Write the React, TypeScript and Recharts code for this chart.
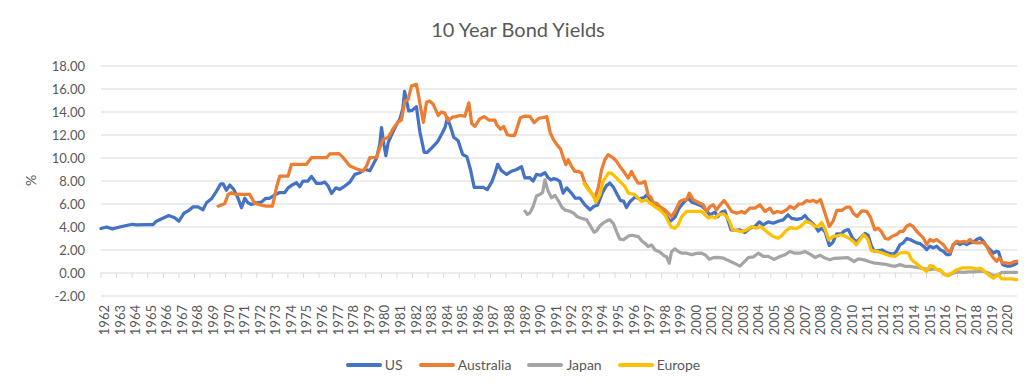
import { LineChart, Line, XAxis, YAxis, CartesianGrid, ReferenceLine } from 'recharts'

// [year fraction, yield %]
const US: [number, number][] = [
  [1962.0, 3.87], [1962.35, 4.0], [1962.73, 3.84], [1963.2, 4.0], [1963.63, 4.13], [1964.0, 4.24],
  [1964.27, 4.19], [1965.0, 4.2], [1965.34, 4.2], [1965.55, 4.5], [1965.87, 4.7], [1966.35, 5.0],
  [1966.73, 4.8], [1967.0, 4.5], [1967.33, 5.2], [1967.59, 5.4], [1967.91, 5.75], [1968.23, 5.75],
  [1968.55, 5.5], [1968.77, 6.1], [1969.09, 6.45], [1969.41, 7.1], [1969.69, 7.76], [1969.84, 7.76],
  [1970.05, 7.2], [1970.27, 7.65], [1970.52, 7.27], [1970.8, 6.5], [1971.02, 5.67], [1971.23, 6.5],
  [1971.44, 6.1], [1971.66, 5.96], [1971.98, 6.1], [1972.3, 6.16], [1972.58, 6.5], [1972.83, 6.5],
  [1973.16, 6.8], [1973.48, 7.0], [1973.8, 7.0], [1974.01, 7.4], [1974.33, 7.7], [1974.55, 7.85],
  [1974.76, 7.5], [1974.97, 8.0], [1975.29, 8.0], [1975.51, 8.4], [1975.83, 7.8], [1976.16, 7.8],
  [1976.37, 7.9], [1976.58, 7.56], [1976.8, 6.92], [1977.08, 7.41], [1977.33, 7.27], [1977.65, 7.56],
  [1977.98, 7.9], [1978.3, 8.58], [1978.62, 8.72], [1978.94, 9.0], [1979.26, 8.9], [1979.48, 9.45],
  [1979.69, 10.0], [1979.9, 11.2], [1980.01, 12.65], [1980.16, 11.2], [1980.29, 10.2], [1980.44, 11.35],
  [1980.65, 12.0], [1980.95, 12.85], [1981.19, 13.4], [1981.38, 14.3], [1981.49, 15.8], [1981.62, 15.0],
  [1981.75, 14.1], [1981.98, 14.15], [1982.25, 14.45], [1982.47, 12.3], [1982.75, 10.5], [1982.95, 10.5],
  [1983.25, 10.9], [1983.6, 11.4], [1983.92, 12.2], [1984.1, 12.7], [1984.24, 13.5], [1984.42, 12.8],
  [1984.65, 11.8], [1984.93, 11.5], [1985.22, 10.3], [1985.49, 10.12], [1985.72, 9.0], [1985.96, 7.45],
  [1986.25, 7.45], [1986.54, 7.45], [1986.8, 7.25], [1987.1, 7.95], [1987.3, 8.7], [1987.47, 9.45],
  [1987.71, 8.9], [1988.04, 8.57], [1988.36, 8.85], [1988.68, 9.0], [1989.0, 9.25], [1989.21, 8.27],
  [1989.51, 8.3], [1989.75, 8.0], [1989.96, 8.57], [1990.22, 8.5], [1990.5, 8.72], [1990.71, 8.28],
  [1990.9, 8.1], [1991.05, 8.2], [1991.25, 8.14], [1991.46, 7.96], [1991.67, 6.95], [1991.9, 7.4],
  [1992.2, 6.95], [1992.45, 6.5], [1992.75, 6.51], [1993.05, 5.95], [1993.4, 5.5], [1993.65, 5.8],
  [1993.88, 5.9], [1994.2, 7.0], [1994.45, 7.6], [1994.67, 7.82], [1994.9, 7.45], [1995.15, 6.8],
  [1995.35, 6.3], [1995.55, 6.25], [1995.74, 5.7], [1995.96, 6.2], [1996.28, 6.6], [1996.55, 6.45],
  [1996.85, 6.55], [1997.05, 6.8], [1997.3, 6.3], [1997.6, 5.95], [1997.92, 5.6], [1998.2, 5.1],
  [1998.55, 4.5], [1998.85, 4.85], [1999.1, 5.6], [1999.45, 6.2], [1999.7, 6.5], [1999.95, 6.15],
  [2000.25, 6.0], [2000.6, 5.8], [2000.9, 5.38], [2001.1, 5.05], [2001.42, 5.3], [2001.6, 4.9],
  [2001.85, 5.3], [2002.05, 5.4], [2002.21, 4.77], [2002.45, 3.75], [2002.7, 3.7], [2003.02, 3.75],
  [2003.34, 3.52], [2003.66, 3.89], [2003.98, 4.04], [2004.26, 4.45], [2004.52, 4.18], [2004.84, 4.45],
  [2005.16, 4.33], [2005.48, 4.5], [2005.8, 4.62], [2006.1, 5.06], [2006.34, 4.75], [2006.66, 4.66],
  [2006.98, 4.75], [2007.2, 5.0], [2007.41, 4.62], [2007.62, 4.4], [2007.84, 4.1], [2008.05, 3.65],
  [2008.27, 3.89], [2008.5, 3.55], [2008.76, 2.4], [2008.98, 2.65], [2009.23, 3.4], [2009.5, 3.4],
  [2009.77, 3.7], [2009.98, 3.78], [2010.25, 3.04], [2010.5, 2.7], [2010.8, 3.1], [2011.05, 3.45],
  [2011.25, 3.3], [2011.45, 2.4], [2011.65, 1.9], [2011.9, 1.95], [2012.15, 2.0], [2012.4, 1.8],
  [2012.6, 1.72], [2012.87, 1.62], [2013.08, 1.89], [2013.3, 2.47], [2013.51, 2.62], [2013.73, 3.0],
  [2013.94, 2.91], [2014.16, 2.76], [2014.37, 2.62], [2014.58, 2.56], [2014.8, 2.33], [2015.01, 2.03],
  [2015.22, 2.33], [2015.44, 2.18], [2015.65, 2.33], [2015.87, 2.03], [2016.08, 1.89], [2016.3, 1.6],
  [2016.51, 1.6], [2016.72, 2.47], [2016.94, 2.67], [2017.15, 2.47], [2017.37, 2.62], [2017.58, 2.47],
  [2017.79, 2.62], [2018.01, 2.67], [2018.22, 2.91], [2018.44, 3.05], [2018.65, 2.76], [2018.86, 2.33],
  [2019.08, 2.03], [2019.29, 1.74], [2019.51, 1.89], [2019.62, 1.85], [2019.88, 0.75], [2020.15, 0.6],
  [2020.4, 0.6], [2020.58, 0.7], [2020.79, 0.85],
]

const AUSTRALIA: [number, number][] = [
  [1969.52, 5.81], [1969.95, 6.05], [1970.16, 6.83], [1970.37, 6.98], [1970.69, 6.83], [1971.55, 6.83],
  [1971.87, 6.05], [1972.3, 5.9], [1972.62, 5.81], [1973.01, 5.81], [1973.26, 7.41], [1973.48, 8.43],
  [1974.01, 8.43], [1974.23, 9.45], [1975.19, 9.45], [1975.51, 10.03], [1976.48, 10.03], [1976.69, 10.35],
  [1977.28, 10.38], [1977.55, 10.03], [1977.98, 9.3], [1978.4, 9.07], [1978.83, 8.87], [1979.05, 9.3],
  [1979.26, 10.03], [1979.69, 10.05], [1979.9, 10.9], [1980.11, 11.6], [1980.44, 11.8], [1980.76, 12.55],
  [1981.08, 13.15], [1981.29, 13.3], [1981.51, 14.95], [1981.72, 15.1], [1981.93, 16.25], [1982.25, 16.4],
  [1982.42, 15.2], [1982.52, 14.4], [1982.7, 13.1], [1982.9, 14.85], [1983.11, 14.95], [1983.33, 14.67],
  [1983.65, 13.7], [1983.85, 14.0], [1984.07, 13.9], [1984.29, 13.23], [1984.55, 13.55], [1984.8, 13.6],
  [1985.04, 13.7], [1985.36, 13.63], [1985.62, 14.8], [1985.8, 13.0], [1986.0, 12.75], [1986.32, 13.4],
  [1986.6, 13.6], [1986.9, 13.3], [1987.29, 13.3], [1987.4, 12.9], [1987.65, 12.5], [1987.85, 12.75],
  [1988.1, 12.0], [1988.55, 11.95], [1988.72, 12.65], [1988.92, 13.5], [1989.22, 13.65], [1989.54, 13.62],
  [1989.8, 13.07], [1990.1, 13.45], [1990.4, 13.52], [1990.62, 13.6], [1990.84, 12.2], [1991.05, 11.6],
  [1991.3, 11.1], [1991.5, 10.8], [1991.65, 10.14], [1991.85, 9.42], [1992.0, 9.85], [1992.21, 9.27],
  [1992.42, 8.83], [1992.64, 8.83], [1992.85, 8.69], [1993.07, 7.82], [1993.28, 7.38], [1993.49, 6.95],
  [1993.7, 6.51], [1993.92, 7.38], [1994.14, 8.98], [1994.35, 9.85], [1994.56, 10.29], [1994.89, 10.0],
  [1995.1, 9.71], [1995.31, 9.27], [1995.63, 8.69], [1995.85, 8.25], [1996.06, 8.83], [1996.28, 8.25],
  [1996.49, 7.82], [1996.7, 7.82], [1996.92, 7.96], [1997.13, 6.8], [1997.35, 6.51], [1997.45, 6.07],
  [1997.67, 6.07], [1997.88, 5.78], [1998.2, 5.49], [1998.42, 5.2], [1998.63, 4.91], [1998.85, 5.35],
  [1999.17, 6.22], [1999.38, 6.36], [1999.6, 6.36], [1999.77, 6.95], [2000.02, 6.36], [2000.24, 6.22],
  [2000.45, 6.07], [2000.67, 5.93], [2000.88, 5.35], [2001.1, 5.78], [2001.31, 5.93], [2001.52, 5.49],
  [2001.74, 5.9], [2002.0, 6.3], [2002.21, 5.93], [2002.49, 5.35], [2002.81, 5.2], [2003.13, 5.35],
  [2003.34, 5.2], [2003.66, 5.64], [2003.98, 5.64], [2004.31, 5.93], [2004.63, 5.35], [2004.95, 5.64],
  [2005.16, 5.2], [2005.42, 5.35], [2005.7, 5.26], [2006.02, 5.5], [2006.23, 5.8], [2006.5, 5.6],
  [2006.8, 6.0], [2007.05, 6.02], [2007.3, 6.3], [2007.52, 6.22], [2007.73, 6.32], [2007.95, 6.15],
  [2008.2, 6.38], [2008.48, 5.22], [2008.76, 4.05], [2009.0, 4.5], [2009.25, 5.45], [2009.55, 5.45],
  [2009.87, 5.72], [2010.09, 5.72], [2010.3, 5.2], [2010.55, 4.92], [2010.85, 5.4], [2011.16, 5.36],
  [2011.4, 4.85], [2011.68, 3.77], [2011.9, 3.9], [2012.1, 3.6], [2012.35, 3.0], [2012.55, 2.95],
  [2012.8, 3.2], [2013.08, 3.34], [2013.3, 3.63], [2013.51, 3.63], [2013.72, 4.07], [2013.94, 4.22],
  [2014.16, 4.01], [2014.37, 3.63], [2014.58, 3.34], [2014.8, 3.05], [2015.01, 2.47], [2015.22, 2.91],
  [2015.44, 2.76], [2015.65, 2.91], [2015.87, 2.67], [2016.08, 2.47], [2016.3, 2.03], [2016.51, 1.8],
  [2016.72, 2.47], [2016.94, 2.76], [2017.15, 2.67], [2017.37, 2.76], [2017.58, 2.67], [2017.79, 2.91],
  [2018.01, 2.67], [2018.22, 2.62], [2018.44, 2.62], [2018.65, 2.67], [2018.86, 2.33], [2019.08, 1.74],
  [2019.29, 1.31], [2019.51, 1.02], [2019.68, 1.31], [2019.89, 0.87], [2020.15, 0.87], [2020.37, 0.81],
  [2020.58, 0.96], [2020.79, 1.02],
]

const JAPAN: [number, number][] = [
  [1989.22, 5.38], [1989.38, 5.09], [1989.54, 5.23], [1989.75, 5.81], [1989.96, 6.69], [1990.18, 6.83],
  [1990.35, 6.98], [1990.5, 8.1], [1990.71, 7.1], [1990.93, 6.55], [1991.15, 6.75], [1991.4, 6.2],
  [1991.6, 5.7], [1991.82, 5.45], [1992.1, 5.38], [1992.35, 5.2], [1992.55, 4.92], [1992.85, 4.75],
  [1993.17, 4.65], [1993.4, 4.15], [1993.65, 3.55], [1993.8, 3.65], [1994.03, 4.1], [1994.25, 4.35],
  [1994.5, 4.55], [1994.68, 4.62], [1994.9, 4.3], [1995.1, 3.6], [1995.31, 2.95], [1995.55, 2.9],
  [1995.85, 3.2], [1996.1, 3.28], [1996.49, 3.17], [1996.71, 2.8], [1996.95, 2.55], [1997.13, 2.3],
  [1997.35, 2.44], [1997.56, 2.02], [1997.88, 1.83], [1998.15, 1.5], [1998.31, 1.42], [1998.48, 0.85],
  [1998.63, 1.85], [1998.85, 2.1], [1999.06, 1.86], [1999.3, 1.72], [1999.6, 1.72], [1999.92, 1.6],
  [2000.24, 1.7], [2000.56, 1.72], [2000.8, 1.57], [2001.05, 1.2], [2001.31, 1.33], [2001.6, 1.35],
  [2001.95, 1.3], [2002.25, 1.1], [2002.59, 0.9], [2003.02, 0.6], [2003.25, 0.9], [2003.56, 1.33],
  [2003.88, 1.4], [2004.2, 1.72], [2004.52, 1.45], [2004.84, 1.44], [2005.2, 1.18], [2005.59, 1.43],
  [2005.9, 1.58], [2006.23, 1.87], [2006.55, 1.72], [2006.87, 1.72], [2007.2, 1.87], [2007.55, 1.62],
  [2007.84, 1.35], [2008.16, 1.55], [2008.48, 1.3], [2008.8, 1.15], [2009.1, 1.28], [2009.66, 1.31],
  [2009.95, 1.33], [2010.35, 1.0], [2010.62, 1.22], [2011.0, 1.14], [2011.3, 1.0], [2011.69, 0.85],
  [2012.0, 0.82], [2012.4, 0.75], [2012.7, 0.64], [2012.98, 0.58], [2013.3, 0.73], [2013.62, 0.58],
  [2013.94, 0.58], [2014.26, 0.52], [2014.58, 0.44], [2014.9, 0.35], [2015.22, 0.29], [2015.55, 0.35],
  [2015.87, 0.23], [2016.19, -0.15], [2016.4, -0.23], [2016.72, 0.0], [2017.05, 0.09], [2017.37, 0.06],
  [2017.69, 0.09], [2018.01, 0.09], [2018.33, 0.15], [2018.65, 0.15], [2018.97, 0.0], [2019.29, -0.23],
  [2019.6, -0.15], [2019.83, 0.06], [2020.15, 0.06], [2020.47, 0.06], [2020.79, 0.06],
]

const EUROPE: [number, number][] = [
  [1993.0, 7.8], [1993.28, 7.24], [1993.6, 6.8], [1993.77, 6.13], [1994.03, 6.8], [1994.24, 7.96],
  [1994.56, 8.69], [1994.77, 8.69], [1994.99, 8.4], [1995.31, 7.96], [1995.63, 7.53], [1995.85, 6.95],
  [1996.06, 6.89], [1996.28, 6.8], [1996.49, 6.51], [1996.7, 6.22], [1997.03, 6.36], [1997.24, 6.07],
  [1997.56, 5.78], [1997.88, 5.49], [1998.2, 5.06], [1998.42, 4.48], [1998.63, 3.98], [1998.85, 3.89],
  [1999.06, 4.18], [1999.28, 4.91], [1999.6, 5.35], [2000.56, 5.35], [2000.77, 5.06], [2000.99, 4.77],
  [2001.2, 4.91], [2001.42, 4.77], [2001.63, 5.06], [2001.95, 5.15], [2002.15, 4.95], [2002.35, 4.5],
  [2002.55, 3.75], [2002.81, 3.69], [2003.13, 3.6], [2003.45, 3.75], [2003.77, 4.04], [2004.09, 3.89],
  [2004.35, 4.04], [2004.73, 3.6], [2005.16, 3.17], [2005.48, 3.02], [2005.7, 3.25], [2006.0, 3.7],
  [2006.25, 3.95], [2006.6, 3.85], [2006.92, 4.05], [2007.25, 4.49], [2007.55, 4.35], [2007.84, 4.05],
  [2008.05, 4.05], [2008.27, 4.4], [2008.48, 3.83], [2008.73, 2.9], [2009.02, 3.18], [2009.23, 3.2],
  [2009.52, 3.32], [2009.82, 3.18], [2010.1, 2.95], [2010.3, 2.75], [2010.5, 2.45], [2010.73, 2.9],
  [2010.97, 3.33], [2011.23, 2.95], [2011.45, 1.95], [2011.69, 1.92], [2012.01, 1.8], [2012.33, 1.65],
  [2012.65, 1.5], [2012.98, 1.45], [2013.3, 1.74], [2013.62, 1.8], [2013.83, 1.74], [2014.05, 1.16],
  [2014.37, 0.81], [2014.69, 0.44], [2015.01, 0.15], [2015.22, 0.64], [2015.44, 0.58], [2015.65, 0.29],
  [2015.87, 0.29], [2016.08, 0.0], [2016.3, -0.23], [2016.62, 0.0], [2016.94, 0.29], [2017.26, 0.44],
  [2017.58, 0.44], [2017.9, 0.44], [2018.22, 0.35], [2018.44, 0.44], [2018.65, 0.23], [2018.97, -0.15],
  [2019.29, -0.44], [2019.61, -0.15], [2019.83, -0.52], [2020.15, -0.52], [2020.47, -0.52], [2020.79, -0.58],
]

const yearTicks = Array.from({ length: 59 }, (_, i) => 1962 + i)
const yTicks = [-2, 0, 2, 4, 6, 8, 10, 12, 14, 16, 18]

const series = [
  { name: 'US', color: '#4472C4', points: US },
  { name: 'Australia', color: '#ED7D31', points: AUSTRALIA },
  { name: 'Japan', color: '#A5A5A5', points: JAPAN },
  { name: 'Europe', color: '#FFC000', points: EUROPE },
]

const FONT = 'Lato, "Open Sans", sans-serif'
const TEXT = '#595959'
const GRID = '#d9d9d9'

function YearTick({ x, y, payload }: any) {
  const tx = x + 3
  const ty = y + 9
  return (
    <text
      x={tx}
      y={ty}
      transform={`rotate(-90, ${tx}, ${ty})`}
      textAnchor="end"
      dominantBaseline="central"
      fontSize={13}
      fontFamily={FONT}
      fill={TEXT}
    >
      {payload.value}
    </text>
  )
}

export default function App() {
  return (
    <div style={{ position: 'relative', width: 1036, height: 391, background: '#fff', fontFamily: FONT }}>
      <style>{'body{margin:0}'}</style>
      <div style={{
        position: 'absolute', top: 16, left: 0, width: 1036, textAlign: 'center',
        fontSize: 20, lineHeight: '26px', color: TEXT,
      }}>
        10 Year Bond Yields
      </div>
      <div style={{
        position: 'absolute', left: 25, top: 172, fontSize: 14, color: TEXT,
        transform: 'rotate(-90deg)', transformOrigin: 'center',
      }}>
        %
      </div>
      <LineChart width={1036} height={391} margin={{ top: 66, right: 19, bottom: 55, left: 41 }}>
        <CartesianGrid vertical={false} stroke={GRID} />
        <XAxis
          type="number"
          dataKey="t"
          domain={[1962, 2020.81]}
          ticks={yearTicks}
          interval={0}
          height={40}
          axisLine={false}
          tickLine={false}
          tickSize={0}
          tickMargin={0}
          tick={<YearTick />}
        />
        <YAxis
          domain={[-2, 18]}
          ticks={yTicks}
          width={60}
          axisLine={false}
          tickLine={false}
          tickSize={0}
          tickMargin={16}
          tickFormatter={(v: number) => v.toFixed(2)}
          tick={{ fontSize: 13, fontFamily: FONT, fill: TEXT }}
        />
        {yearTicks.map((yr) => (
          <ReferenceLine
            key={yr}
            segment={[{ x: yr, y: 0 }, { x: yr, y: -0.43 }]}
            stroke={GRID}
            ifOverflow="visible"
          />
        ))}
        {series.map((s) => (
          <Line
            key={s.name}
            data={s.points.map(([t, v]) => ({ t, v }))}
            dataKey="v"
            name={s.name}
            type="linear"
            stroke={s.color}
            strokeWidth={3.25}
            strokeLinejoin="round"
            strokeLinecap="round"
            dot={false}
            activeDot={false}
            isAnimationActive={false}
          />
        ))}
      </LineChart>
      <div style={{
        position: 'absolute', top: 356, left: 5, width: 1036, display: 'flex',
        justifyContent: 'center', gap: 16, fontSize: 14, color: TEXT, lineHeight: '18px',
      }}>
        {series.map((s) => (
          <span key={s.name} style={{ display: 'inline-flex', alignItems: 'center', gap: 3 }}>
            <span style={{ display: 'inline-block', width: 36, height: 4, borderRadius: 2, background: s.color }} />
            {s.name}
          </span>
        ))}
      </div>
    </div>
  )
}
